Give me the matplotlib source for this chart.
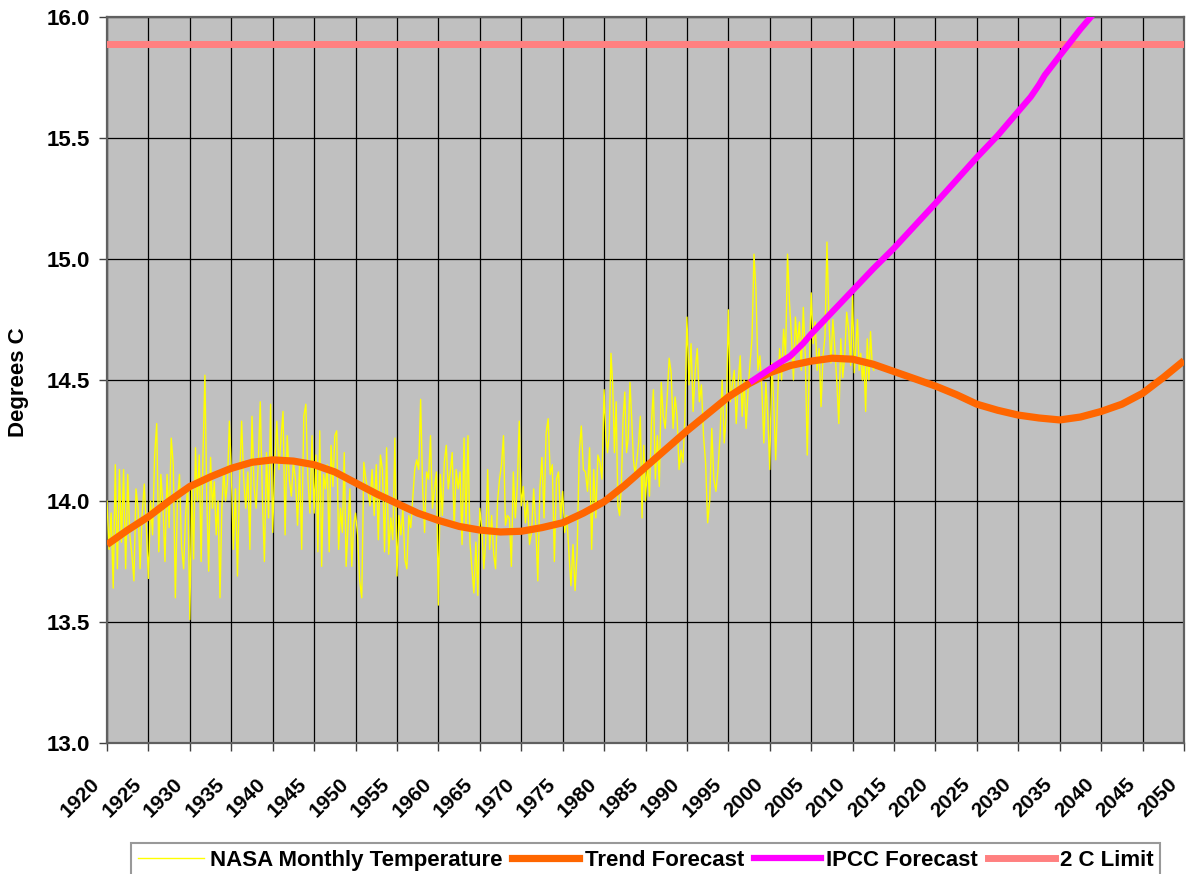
import numpy as np
import matplotlib
matplotlib.use("Agg")
import matplotlib.pyplot as plt
from matplotlib.lines import Line2D
from matplotlib.transforms import ScaledTranslation

plt.rcParams['font.family'] = ['Liberation Sans', 'DejaVu Sans']
plt.rcParams['font.weight'] = 'bold'

# ---- NASA monthly temperature (blocks of 5 years) ----
nasa_1920 = [14.00, 13.80, 13.95, 13.64, 14.15, 13.72, 14.13, 13.83, 14.13, 13.72,
             14.11, 13.86, 13.78, 13.67, 14.05, 13.97, 13.72, 13.95, 14.07, 13.89]
nasa_1925 = [13.68, 14.00, 13.86, 14.19, 14.32, 13.79, 14.11, 13.98, 13.75, 14.11,
             13.89, 14.26, 14.15, 13.60, 14.00, 14.11, 13.81, 13.72, 13.95, 14.06]
nasa_1930 = [13.51, 14.06, 13.76, 14.22, 14.00, 14.19, 13.75, 14.20, 14.52, 14.00,
             13.71, 14.18, 13.97, 14.08, 13.86, 14.00, 13.60, 13.97, 14.13, 14.00,
             14.08, 14.33]
nasa_1935 = [14.13, 13.80, 14.05, 13.69, 14.08, 14.33, 14.09, 13.97, 14.12, 13.80,
             14.35, 14.06, 13.97, 14.15, 14.41, 14.02, 13.75, 14.20, 13.93, 14.40]
nasa_1940 = [13.87, 14.16, 14.33, 14.13, 14.26, 14.37, 13.86, 14.27, 14.09, 14.02,
             14.16, 14.09, 13.90, 14.15, 13.80, 14.35, 14.40, 14.09, 13.95, 14.27]
nasa_1945 = [13.95, 14.19, 13.79, 14.29, 13.73, 14.11, 14.05, 14.15, 13.79, 14.23,
             14.06, 14.27, 14.29, 13.80, 13.97, 13.87, 14.20, 13.73, 13.89, 14.05,
             13.73, 13.90]
nasa_1950 = [13.95, 13.86, 13.67, 13.60, 14.16, 14.09, 14.04, 13.98, 14.13, 13.94,
             14.15, 13.84, 14.19, 14.13, 13.79, 14.22, 13.78, 13.93, 13.84, 14.26]
nasa_1955 = [13.69, 13.94, 13.86, 13.97, 13.76, 13.72, 13.94, 13.89, 14.01, 14.13,
             14.17, 14.13, 14.42, 14.06, 13.87, 14.12, 14.09, 14.27, 13.97, 14.05,
             14.12]
nasa_1960 = [13.57, 14.11, 13.94, 14.16, 14.23, 14.05, 14.12, 14.20, 13.89, 14.13,
             14.05, 14.12, 13.82, 14.26, 13.90, 14.27, 13.83, 13.72, 13.62, 13.83,
             13.61]
nasa_1965 = [13.97, 13.89, 13.72, 13.83, 14.13, 13.80, 13.94, 13.78, 13.72, 14.00,
             14.09, 14.15, 14.27, 13.90, 13.94, 13.93, 13.73, 14.12, 13.93, 14.06,
             14.33]
nasa_1970 = [13.98, 14.06, 13.91, 14.00, 13.82, 13.87, 14.05, 13.90, 13.67, 14.05,
             14.18, 13.93, 14.28, 14.34, 14.11, 14.15, 13.75, 14.09, 14.12, 13.93]
nasa_1975 = [14.04, 13.87, 13.94, 13.79, 13.65, 13.82, 13.63, 13.79, 14.20, 14.31,
             14.13, 14.12, 14.04, 14.22, 13.80, 14.13, 13.93, 14.19, 14.16, 14.09]
nasa_1980 = [14.46, 14.27, 14.20, 14.28, 14.61, 14.48, 14.20, 14.41, 13.98, 13.94,
             14.06, 14.34, 14.45, 14.20, 14.26, 14.49, 14.34, 14.17, 14.11, 14.17,
             14.24, 14.35, 13.93, 14.23]
nasa_1985 = [14.00, 14.16, 14.02, 14.32, 14.46, 14.09, 14.27, 14.06, 14.49, 14.35,
             14.30, 14.43, 14.59, 14.53, 14.30, 14.43, 14.35, 14.13, 14.21, 14.16,
             14.35]
nasa_1990 = [14.76, 14.48, 14.65, 14.37, 14.54, 14.63, 14.41, 14.48, 14.27, 14.16,
             13.91, 14.00, 14.30, 14.09, 14.04, 14.13, 14.27, 14.50, 14.24, 14.35]
nasa_1995 = [14.79, 14.41, 14.48, 14.54, 14.32, 14.49, 14.60, 14.35, 14.50, 14.30,
             14.46, 14.57, 14.67, 15.02, 14.87, 14.54, 14.60, 14.46, 14.24, 14.49,
             14.35]
nasa_2000 = [14.13, 14.57, 14.41, 14.17, 14.43, 14.63, 14.50, 14.71, 14.60, 15.02,
             14.82, 14.68, 14.50, 14.76, 14.64, 14.74, 14.54, 14.80, 14.60, 14.19,
             14.54]
nasa_2005 = [14.86, 14.65, 14.74, 14.54, 14.63, 14.39, 14.60, 14.68, 15.07, 14.74,
             14.57, 14.75, 14.63, 14.49, 14.32, 14.67, 14.51, 14.60, 14.78, 14.71,
             14.56]
nasa_2010 = [14.85, 14.53, 14.64, 14.75, 14.54, 14.61, 14.50, 14.57, 14.37, 14.67,
             14.50, 14.70, 14.57, 14.54]
nasa_last_year = 2012.75

nasa_blocks = [nasa_1920, nasa_1925, nasa_1930, nasa_1935, nasa_1940, nasa_1945,
               nasa_1950, nasa_1955, nasa_1960, nasa_1965, nasa_1970, nasa_1975,
               nasa_1980, nasa_1985, nasa_1990, nasa_1995, nasa_2000, nasa_2005,
               nasa_2010]
nasa_block_starts = list(range(1920, 2011, 5))

# ---- Trend forecast ----
trend_years = [1920, 1922.5, 1925, 1927.5, 1930, 1932.5, 1935, 1937.5, 1940, 1942.5,
               1945, 1947.5, 1950, 1952.5, 1955, 1957.5, 1960, 1962.5, 1965, 1967.5,
               1970, 1972.5, 1975, 1977.5, 1980, 1982.5, 1985, 1987.5, 1990, 1992.5,
               1995, 1997.5, 2000, 2002.5, 2005, 2007.5, 2010, 2012.5, 2015, 2017.5,
               2020, 2022.5, 2025, 2027.5, 2030, 2032.5, 2035, 2037.5, 2040, 2042.5,
               2045, 2047.5, 2050]
trend_values = [13.82, 13.88, 13.935, 14.00, 14.06, 14.10, 14.135, 14.16, 14.17, 14.165,
                14.15, 14.12, 14.075, 14.03, 13.99, 13.95, 13.92, 13.895, 13.88, 13.872,
                13.875, 13.89, 13.91, 13.95, 13.997, 14.065, 14.14, 14.215, 14.29, 14.36,
                14.43, 14.485, 14.53, 14.56, 14.578, 14.59, 14.586, 14.565, 14.535, 14.505,
                14.475, 14.44, 14.40, 14.375, 14.355, 14.343, 14.335, 14.347, 14.37, 14.40,
                14.445, 14.51, 14.58]

# ---- IPCC forecast ----
ipcc_years = [1997.6, 2000, 2002.5, 2004, 2005, 2007.5, 2010, 2012.5, 2015, 2020,
              2025, 2027.5, 2030, 2031.5, 2032.5, 2033.2, 2035, 2037.5, 2040]
ipcc_values = [14.49, 14.545, 14.60, 14.65, 14.69, 14.78, 14.87, 14.96, 15.045, 15.23,
               15.42, 15.51, 15.61, 15.67, 15.72, 15.76, 15.84, 15.95, 16.05]

limit_value = 15.89

x_ticks = list(range(1920, 2051, 5))
y_ticks = [13.0, 13.5, 14.0, 14.5, 15.0, 15.5, 16.0]

# ---- figure ----
W, H = 1186, 874
fig = plt.figure(figsize=(W / 100, H / 100), dpi=100)
ax = fig.add_axes([107 / W, 1 - 743 / H, (1184 - 107) / W, (743 - 17) / H])
ax.set_facecolor('#C0C0C0')

nasa_x, nasa_y = [], []
for i, (start, vals) in enumerate(zip(nasa_block_starts, nasa_blocks)):
    end = nasa_block_starts[i + 1] if i + 1 < len(nasa_block_starts) else nasa_last_year
    nasa_x.extend(np.linspace(start, end, len(vals), endpoint=False))
    nasa_y.extend(vals)

ax.plot(nasa_x, nasa_y, color='#FFFF00', lw=1.0, zorder=3)
ax.plot(trend_years, trend_values, color='#FF6600', lw=5.2, zorder=4,
        solid_capstyle='butt')
ax.plot(ipcc_years, ipcc_values, color='#FF00FF', lw=4.5, zorder=5,
        solid_capstyle='butt')
ax.axhline(limit_value, color='#FF8080', lw=5.0, zorder=4)

ax.set_xlim(1920, 2050)
ax.set_ylim(13.0, 16.0)
ax.set_xticks(x_ticks)
ax.set_yticks(y_ticks)
ax.set_yticklabels([f"{v:.1f}" for v in y_ticks])
ax.set_xticklabels([str(v) for v in x_ticks])
ax.grid(True, color='black', lw=0.9)
ax.set_axisbelow(True)

for sp in ax.spines.values():
    sp.set_color('#606060')
    sp.set_linewidth(1.6)

ax.tick_params(axis='both', direction='out', length=5.5, width=1.0,
               color='#404040')
ax.tick_params(axis='y', pad=7, labelsize=16)
ax.tick_params(axis='x', pad=22, labelsize=15)
for lab in ax.get_xticklabels():
    lab.set_rotation(45)
    lab.set_ha('right')
    lab.set_va('center')
    lab.set_rotation_mode('anchor')
    lab.set_fontweight('bold')
    lab.set_transform(lab.get_transform() + ScaledTranslation(-0.10, 0, fig.dpi_scale_trans))
for lab in ax.get_yticklabels():
    lab.set_fontweight('bold')

fig.text(19 / W, 1 - 382 / H, 'Degrees C', rotation=90, ha='center', va='center',
         fontsize=16, fontweight='bold')

handles = [Line2D([], [], color='#FFFF00', lw=1.0),
           Line2D([], [], color='#FF6600', lw=5.2),
           Line2D([], [], color='#FF00FF', lw=4.5),
           Line2D([], [], color='#FF8080', lw=5.0)]
labels = ['NASA Monthly Temperature', 'Trend Forecast', 'IPCC Forecast', '2 C Limit']
leg = fig.legend(handles, labels, loc='upper left', bbox_to_anchor=(131 / W, 1 - 843 / H),
                 ncol=4, frameon=True, fancybox=False, edgecolor='#808080',
                 handlelength=3.0, handletextpad=0.25, columnspacing=0.45,
                 borderpad=0.3, borderaxespad=0,
                 prop={'size': 16, 'weight': 'bold'})
leg.get_frame().set_linewidth(1.5)

fig.savefig('out.png', dpi=100, facecolor='white')
